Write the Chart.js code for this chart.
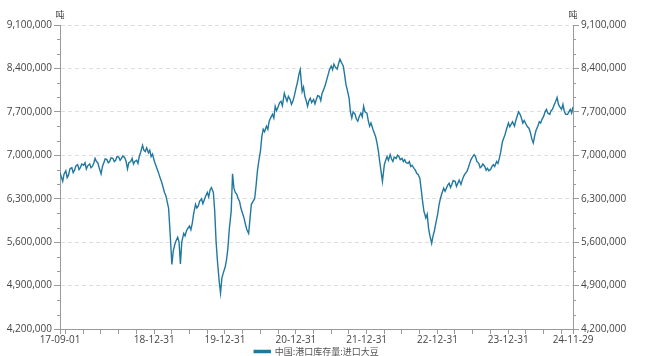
<!DOCTYPE html>
<html><head><meta charset="utf-8">
<script src="https://cdn.jsdelivr.net/npm/chart.js@4/dist/chart.umd.min.js"></script>
<style>html,body{margin:0;padding:0;background:#fff}#wrap{width:646px;height:356px}</style>
</head><body><div id="wrap"><canvas id="c" width="646" height="356"></canvas></div>
<script>
const seriesName = '中国:港口库存量:进口大豆';
const unitLabel = '吨';
// observation days in each month (weekly readings)
const obsDays = ['01','08','15','22'];
const months = [
'2017-09','2017-10','2017-11','2017-12',
'2018-01','2018-02','2018-03','2018-04','2018-05','2018-06','2018-07','2018-08','2018-09','2018-10','2018-11','2018-12',
'2019-01','2019-02','2019-03','2019-04','2019-05','2019-06','2019-07','2019-08','2019-09','2019-10','2019-11','2019-12',
'2020-01','2020-02','2020-03','2020-04','2020-05','2020-06','2020-07','2020-08','2020-09','2020-10','2020-11','2020-12',
'2021-01','2021-02','2021-03','2021-04','2021-05','2021-06','2021-07','2021-08','2021-09','2021-10','2021-11','2021-12',
'2022-01','2022-02','2022-03','2022-04','2022-05','2022-06','2022-07','2022-08','2022-09','2022-10','2022-11','2022-12',
'2023-01','2023-02','2023-03','2023-04','2023-05','2023-06','2023-07','2023-08','2023-09','2023-10','2023-11','2023-12',
'2024-01','2024-02','2024-03','2024-04','2024-05','2024-06','2024-07','2024-08','2024-09','2024-10','2024-11'
];
const lastDate = '2024-11-29';
const stock = [
6720000,6650000,6580000,6700000, 6750000,6640000,6680000,6780000, 6800000,6720000,6760000,6830000, 6850000,6770000,6800000,6860000,
6840000,6880000,6780000,6830000, 6860000,6800000,6820000,6870000, 6950000,6900000,6880000,6800000, 6700000,6820000,6880000,6940000,
6930000,6880000,6900000,6960000, 6950000,6900000,6920000,6980000, 6970000,6920000,6950000,6990000, 6960000,6900000,6780000,6880000,
6900000,6950000,6860000,6900000, 6920000,6870000,6980000,7050000, 7160000,7080000,7060000,7120000, 7040000,7080000,6980000,7020000,
6900000,6840000,6780000,6720000, 6620000,6560000,6480000,6400000, 6350000,6250000,6150000,5800000, 5240000,5450000,5550000,5620000,
5680000,5600000,5250000,5600000, 5740000,5700000,5780000,5820000, 5860000,5800000,5900000,6050000, 6210000,6150000,6180000,6260000,
6300000,6220000,6280000,6340000, 6400000,6330000,6440000,6480000, 6400000,6100000,5610000,5300000, 4970000,4780000,5020000,5100000,
5200000,5320000,5500000,5800000, 6100000,6700000,6470000,6400000, 6370000,6300000,6260000,6150000, 6050000,5980000,5880000,5800000,
5740000,5980000,6210000,6250000, 6300000,6500000,6740000,6900000, 7070000,7300000,7420000,7380000, 7470000,7420000,7550000,7600000,
7660000,7600000,7790000,7720000, 7790000,7850000,7870000,7800000, 8000000,7930000,7870000,7950000, 7900000,7820000,7870000,7950000,
8090000,8180000,8300000,8380000, 8030000,8100000,7950000,7880000, 7790000,7880000,7920000,7850000, 7900000,7830000,7900000,7960000,
7950000,7880000,8000000,8050000, 8140000,8220000,8300000,8380000, 8440000,8380000,8470000,8420000, 8390000,8480000,8550000,8500000,
8440000,8300000,8140000,8050000, 7920000,7700000,7600000,7700000, 7660000,7580000,7550000,7620000, 7680000,7620000,7790000,7700000,
7680000,7560000,7470000,7520000, 7420000,7360000,7300000,7200000, 7070000,6900000,6740000,6580000, 6850000,6920000,6980000,6920000,
7010000,6940000,6900000,6970000, 6950000,7000000,6980000,6930000, 6950000,6900000,6930000,6880000, 6870000,6900000,6820000,6840000,
6790000,6760000,6710000,6690000, 6630000,6450000,6260000,6100000, 5990000,6050000,5820000,5700000, 5580000,5700000,5780000,5900000,
6050000,6200000,6300000,6380000, 6470000,6420000,6470000,6520000, 6550000,6480000,6530000,6590000, 6580000,6500000,6550000,6600000,
6530000,6600000,6660000,6700000, 6740000,6800000,6870000,6930000, 6980000,7010000,6980000,6900000, 6870000,6800000,6820000,6860000,
6820000,6760000,6790000,6750000, 6770000,6820000,6850000,6820000, 6900000,6870000,6950000,7050000, 7220000,7280000,7340000,7420000,
7520000,7460000,7500000,7540000, 7470000,7560000,7630000,7700000, 7660000,7600000,7520000,7560000, 7500000,7460000,7440000,7380000,
7260000,7200000,7310000,7400000, 7470000,7540000,7520000,7580000, 7630000,7700000,7740000,7680000, 7660000,7720000,7740000,7800000,
7870000,7930000,7820000,7780000, 7740000,7820000,7710000,7660000, 7660000,7700000,7740000,7680000,
7780000
];
const xLabelDates = ['2017-09-01','2018-12-31','2019-12-31','2020-12-31','2021-12-31','2022-12-31','2023-12-31','2024-11-29'];
const yMin = 4200000, yMax = 9100000, yStep = 700000;

const dates = [];
months.forEach(m => obsDays.forEach(d => dates.push(m + '-' + d)));
dates.push(lastDate);

const DAY = 86400000;
const t0 = Date.parse(dates[0] + 'T00:00:00Z');
const toDay = s => Math.round((Date.parse(s + 'T00:00:00Z') - t0) / DAY);
const points = dates.map((d, i) => ({x: toDay(d), y: stock[i]}));
const xMax = toDay(xLabelDates[xLabelDates.length - 1]);

const quarterTicks = [];
for (let y = 2017; y <= 2024; y++) {
  for (const md of ['03-31','06-30','09-30','12-31']) {
    const d = toDay(y + '-' + md);
    if (d > 0 && d < xMax) quarterTicks.push(d);
  }
}
const labelMap = {};
xLabelDates.forEach(s => { labelMap[toDay(s)] = s.slice(2); });
const xTickValues = Array.from(new Set([0, ...quarterTicks, xMax])).sort((a,b)=>a-b);

const fmt = v => Math.round(v).toString().replace(/\B(?=(\d{3})+(?!\d))/g, ',');
const FONT = '"Open Sans", "Noto Sans", sans-serif';
const COLOR = '#21789f';

const minorTicks = {
  id: 'minorTicks',
  afterDraw(chart) {
    const c = chart.ctx;
    c.save();
    c.strokeStyle = '#9a9a9a';
    c.lineWidth = 1;
    ['y', 'y2'].forEach(id => {
      const s = chart.scales[id];
      for (let v = yMin; v < yMax; v += yStep) {
        for (let k = 1; k < 3; k++) {
          const py = Math.round(s.getPixelForValue(v + k * yStep / 3)) + 0.5;
          c.beginPath();
          if (id === 'y') { c.moveTo(s.right - 3, py); c.lineTo(s.right, py); }
          else { c.moveTo(s.left, py); c.lineTo(s.left + 3, py); }
          c.stroke();
        }
      }
    });
    c.fillStyle = '#444';
    c.font = '9px "Noto Sans CJK SC"';
    c.textAlign = 'center';
    c.textBaseline = 'middle';
    c.fillText(unitLabel, chart.scales.y.right, chart.chartArea.top - 10);
    c.fillText(unitLabel, chart.scales.y2.left, chart.chartArea.top - 10);
    c.restore();
  }
};

const yAxis = (pos) => ({
  type: 'linear', position: pos, min: yMin, max: yMax,
  afterBuildTicks: s => { const t = []; for (let v = yMin; v <= yMax; v += yStep) t.push({value: v}); s.ticks = t; },
  afterFit: s => { s.width = pos === 'left' ? 60 : 73; },
  ticks: { callback: v => fmt(v), color: '#444', font: {family: FONT, size: 10}, padding: 2 },
  grid: {
    drawOnChartArea: pos === 'left', color: '#dedede',
    tickColor: '#9a9a9a', tickLength: 6, tickBorderDash: []
  },
  border: { display: true, color: '#9a9a9a', dash: [4, 3] }
});

new Chart(document.getElementById('c'), {
  type: 'line',
  data: { datasets: [{
    label: seriesName, data: points, borderColor: COLOR, backgroundColor: COLOR,
    borderWidth: 1.4, pointRadius: 0, tension: 0
  }]},
  options: {
    responsive: false, animation: false, devicePixelRatio: 1,
    layout: { padding: { top: 25, left: 0, right: 0, bottom: -10 } },
    scales: {
      x: {
        type: 'linear', min: 0, max: xMax,
        afterBuildTicks: s => { s.ticks = xTickValues.map(v => ({value: v})); },
        afterFit: s => { s.height = 15; },
        ticks: { autoSkip: false, maxRotation: 0, callback: v => labelMap[v] || '', color: '#444', font: {family: FONT, size: 10}, padding: 0 },
        grid: { drawOnChartArea: false, tickColor: '#9a9a9a', tickLength: 5 },
        border: { display: true, color: '#9a9a9a' }
      },
      y: yAxis('left'),
      y2: yAxis('right')
    },
    plugins: {
      legend: { position: 'bottom', fullSize: false, labels: { boxWidth: 16, boxHeight: 2, padding: 3, color: '#555', font: {family: '"Noto Sans CJK SC"', size: 9} } },
      tooltip: { enabled: false }
    }
  },
  plugins: [minorTicks]
});
</script></body></html>
